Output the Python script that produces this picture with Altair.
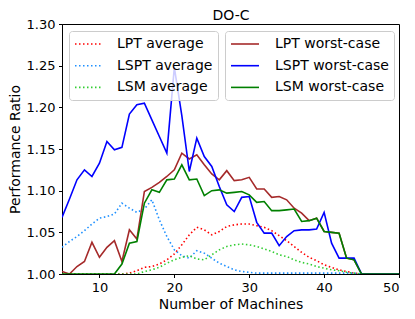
import altair as alt
import pandas as pd

machines = list(range(5, 51))

lpt_avg = [1.0] * 9 + [1.001, 1.004, 1.008, 1.009, 1.012, 1.017, 1.024, 1.035, 1.047, 1.056,
                       1.053, 1.047, 1.051, 1.057, 1.059, 1.060, 1.060, 1.058, 1.056, 1.052,
                       1.046, 1.040, 1.033, 1.026, 1.020, 1.016, 1.011, 1.008, 1.005, 1.003,
                       1.001] + [1.0] * 6
lspt_avg = [1.032, 1.039, 1.045, 1.052, 1.060, 1.067, 1.069, 1.072, 1.085, 1.079,
            1.074, 1.078, 1.089, 1.065, 1.045, 1.029, 1.022, 1.019, 1.028, 1.025,
            1.019, 1.013, 1.009, 1.005, 1.003, 1.002] + [1.001] * 14 + [1.0] * 6
lsm_avg = [1.0] * 11 + [1.003, 1.005, 1.008, 1.013, 1.017, 1.020, 1.022, 1.018, 1.017, 1.023,
                        1.029, 1.033, 1.035, 1.036, 1.035, 1.033, 1.030, 1.027, 1.023, 1.021,
                        1.017, 1.014, 1.012, 1.009, 1.007, 1.005, 1.004, 1.002, 1.001] + [1.0] * 6
lpt_worst = [1.003, 1.000, 1.009, 1.015, 1.038, 1.020, 1.032, 1.040, 1.015, 1.053,
             1.042, 1.099, 1.104, 1.110, 1.117, 1.125, 1.145, 1.138, 1.143, 1.131,
             1.120, 1.113, 1.124, 1.112, 1.113, 1.116, 1.102, 1.102, 1.092, 1.093,
             1.089, 1.079, 1.073, 1.064, 1.067, 1.051, 1.050, 1.049, 1.019, 1.017] + [1.0] * 6
lspt_worst = [1.068, 1.090, 1.113, 1.125, 1.117, 1.133, 1.159, 1.149, 1.152, 1.192,
              1.203, 1.205, 1.185, 1.165, 1.145, 1.248, 1.190, 1.123, 1.163, 1.141,
              1.129, 1.105, 1.083, 1.075, 1.092, 1.093, 1.062, 1.049, 1.049, 1.034,
              1.045, 1.052, 1.053, 1.053, 1.054, 1.074, 1.037, 1.019, 1.019, 1.019] + [1.0] * 6
lsm_worst = [1.0] * 8 + [1.012, 1.037, 1.039, 1.085, 1.101, 1.098, 1.113, 1.114, 1.131, 1.113,
                         1.114, 1.094, 1.100, 1.101, 1.097, 1.098, 1.099, 1.095, 1.086, 1.087,
                         1.076, 1.076, 1.077, 1.078, 1.063, 1.064, 1.067, 1.051, 1.050, 1.049,
                         1.019, 1.017] + [1.0] * 6

avg_names = ["LPT average", "LSPT average", "LSM average"]
avg_colors = ["#ff0000", "#1e90ff", "#32cd32"]
worst_names = ["LPT worst-case", "LSPT worst-case", "LSM worst-case"]
worst_colors = ["#a52a2a", "#0000ff", "#008000"]


def frame(names, lists):
    rows = []
    for name, vals in zip(names, lists):
        for m, v in zip(machines, vals):
            rows.append({"x": m, "value": v, "series": name})
    return pd.DataFrame(rows)


df_avg = frame(avg_names, [lpt_avg, lspt_avg, lsm_avg])
df_worst = frame(worst_names, [lpt_worst, lspt_worst, lsm_worst])

FONT = "DejaVu Sans"
x_scale = alt.Scale(domain=[5, 50], nice=False, zero=False)
y_scale = alt.Scale(domain=[1.0, 1.3], nice=False, zero=False)

x_bottom = alt.X("x:Q", scale=x_scale,
                 axis=alt.Axis(values=[10, 20, 30, 40, 50], title="Number of Machines",
                               grid=False, tickSize=3.5, labelPadding=3.5, titlePadding=3,
                               labelFontSize=13, titleFontSize=14, labelFont=FONT, titleFont=FONT,
                               titleFontWeight="normal", labelColor="black", titleColor="black",
                               domainColor="black", tickColor="black"))
x_top = alt.X("x:Q", scale=x_scale,
              axis=alt.Axis(orient="top", title="DO-C", labels=False, ticks=False, domain=False,
                            grid=False, titleFontSize=14, titleFont=FONT, titleFontWeight="normal",
                            titleColor="black", titleBaseline="alphabetic", titlePadding=5))
y_enc = alt.Y("value:Q", scale=y_scale,
              axis=alt.Axis(values=[1.0, 1.05, 1.1, 1.15, 1.2, 1.25, 1.3], format=".2f",
                            title="Performance Ratio", grid=False, tickSize=3.5, labelPadding=3.5,
                            labelFontSize=13, titleFontSize=14, labelFont=FONT, titleFont=FONT,
                            titleFontWeight="normal", labelColor="black", titleColor="black",
                            domainColor="black", tickColor="black",
                            titleAngle=-90, titleX=-47, titleY=125, titleAlign="center",
                            titleBaseline="middle"))


def legend(x, dash, label_offset):
    kw = dict(title=None, orient="none", direction="vertical", legendX=x, legendY=7,
              symbolType="M-2,0H2", symbolSize=196, symbolStrokeWidth=1.6,
              symbolOffset=7, labelOffset=label_offset, labelAlign="left",
              labelFontSize=14, labelFont=FONT, labelColor="black",
              padding=5, rowPadding=6.7, fillColor="rgba(255,255,255,0.8)",
              strokeColor="#cccccc", cornerRadius=3)
    if dash:
        kw["symbolDash"] = [1.5, 2.5]
    return alt.Legend(**kw)


avg_layer = alt.Chart(df_avg).mark_line(strokeWidth=1.6, strokeDash=[1.5, 2.5], clip=True).encode(
    x=x_bottom, y=y_enc,
    color=alt.Color("series:N", sort=avg_names,
                    scale=alt.Scale(domain=avg_names, range=avg_colors),
                    legend=legend(7, True, 20)))
worst_layer = alt.Chart(df_worst).mark_line(strokeWidth=1.6, clip=True).encode(
    x=x_top, y=y_enc,
    color=alt.Color("series:N", sort=worst_names,
                    scale=alt.Scale(domain=worst_names, range=worst_colors),
                    legend=legend(163, False, 22)))

chart = alt.layer(avg_layer, worst_layer).resolve_scale(color="independent").resolve_axis(
    x="independent").properties(
    width=337, height=250,
    autosize=alt.AutoSizeParams(type="none"),
    padding={"left": 54, "top": 16, "right": 8, "bottom": 37},
).configure_view(stroke="black", strokeWidth=1)

chart.save("out.html", embed_options={"renderer": "svg", "actions": False})
